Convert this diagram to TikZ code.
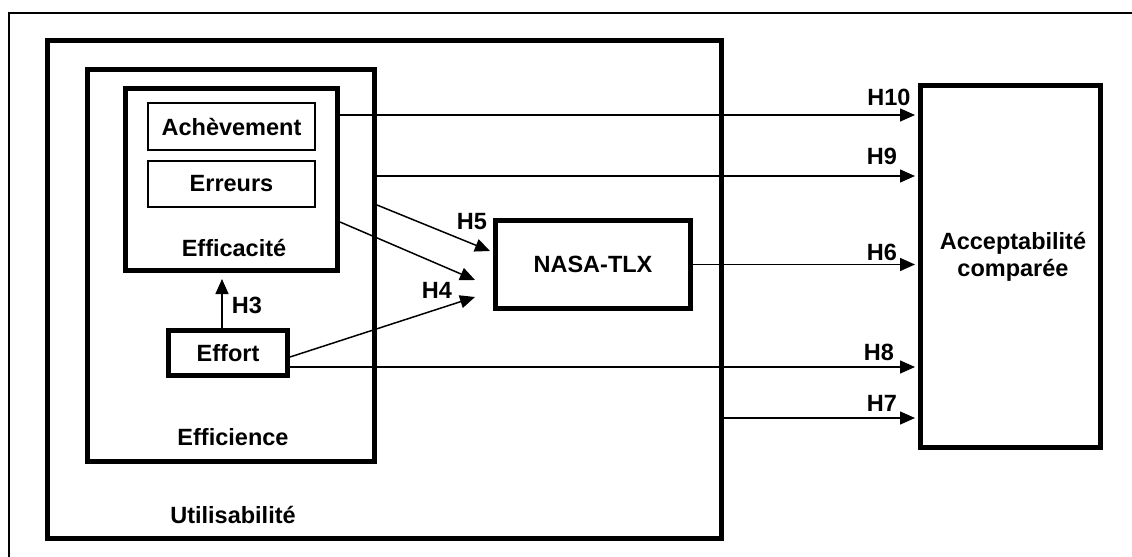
\documentclass[tikz,border=0pt]{standalone}
\usepackage{fontspec}
\setmainfont{Liberation Sans}
\usetikzlibrary{arrows.meta,positioning,calc}

\begin{document}
\begin{tikzpicture}[
  x=0.5pt,y=-0.5pt,
  font=\bfseries\fontsize{11.75}{13.5}\selectfont,
  arrow/.style={-{Triangle[length=7.5pt,width=6.5pt]},line width=0.75pt,shorten >=1.5pt},
  thickbox/.style={draw,line width=2.5pt,inner sep=0pt},
  thinbox/.style={draw,line width=0.75pt,inner sep=0pt},
  boxtitle/.style={inner sep=0pt,align=center},
  hyp/.style={inner sep=0pt}
]
\useasboundingbox (0,0) rectangle (1132,557);

% Outer frame, cut off at the right and bottom edges.
\draw[line width=1pt] (9,557) -- (9,13) -- (1132,13);

% -------------------------------------------------------------------------
% Nested usability boxes.
% -------------------------------------------------------------------------
\node[thickbox,minimum width=337pt,minimum height=249pt] (util) at (384.5,289) {};
\node[thickbox,minimum width=143.5pt,minimum height=196pt] (effic) at (231,265.5) {};
\node[thickbox,minimum width=106pt,minimum height=91pt] (effcac) at (231.5,179.5) {};
\node[thinbox,minimum width=83.5pt,minimum height=23.5pt] (achev) at (231.5,126.5) {Achèvement};
\node[thinbox,minimum width=83.5pt,minimum height=23pt] (err) at (231.5,184) {Erreurs};
\node[thickbox,minimum width=59.5pt,minimum height=22.5pt] (effort) at (228,353) {Effort};

\node[boxtitle] (effcaclbl) at (234,248) {Efficacité};
\node[boxtitle] (efficlbl) at (233,437) {Efficience};
\node[boxtitle] (utillbl) at (233,515) {Utilisabilité};

% -------------------------------------------------------------------------
% Workload and acceptability.
% -------------------------------------------------------------------------
\node[thickbox,minimum width=97.5pt,minimum height=44pt] (nasa) at (593,264.5) {NASA-TLX};
\node[thickbox,minimum width=90pt,minimum height=181pt] (acc) at (1010.5,266.5) {};
\node[boxtitle] (acclbl) at (1013,257) {Acceptabilité\\comparée};

% Heights of the horizontal links and free ends of the links to NASA-TLX.
\coordinate (yH10) at (0,115);
\coordinate (yH9) at (0,176);
\coordinate (yH8) at (0,367);
\coordinate (yH7) at (0,418);
\coordinate (yH5) at (0,205);
\coordinate (yH4a) at (0,222);
\coordinate (yH4b) at (0,357);
\coordinate (t5) at (490,251);
\coordinate (t4a) at (475,280);
\coordinate (t4b) at (475,297);
\coordinate (h3) at ([xshift=-3pt]effort.north);

\draw[arrow] (effcac.east |- yH10) -- (acc.west |- yH10);
\draw[arrow] (effic.east |- yH9) -- (acc.west |- yH9);
\draw[arrow] (nasa.east) -- (nasa.east -| acc.west);
\draw[arrow] (effort.east |- yH8) -- (acc.west |- yH8);
\draw[arrow] (util.east |- yH7) -- (acc.west |- yH7);

\draw[arrow,shorten >=0pt] (effic.east |- yH5) -- (t5);
\draw[arrow,shorten >=0pt] (effcac.east |- yH4a) -- (t4a);
\draw[arrow,shorten >=0pt] (effort.east |- yH4b) -- (t4b);
\draw[arrow,shorten >=3pt] (h3) -- (h3 |- effcac.south);

\foreach \t/\x/\y in {H10/889/97,H9/882/156,H6/882/252,H8/879/352,H7/882/403,
                      H5/472/222,H4/437/290,H3/247/305}
  {\node[hyp] (\t) at (\x,\y) {\t};}
\end{tikzpicture}
\end{document}
